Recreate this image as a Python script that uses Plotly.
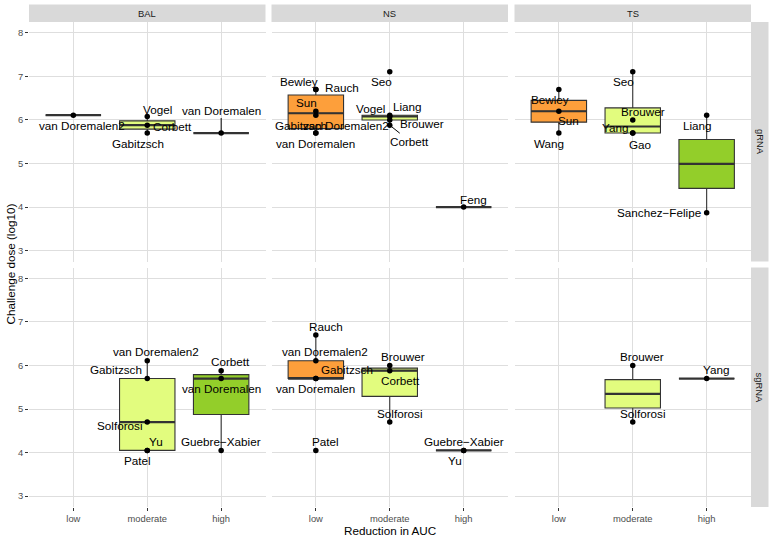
import numpy as np
import plotly.graph_objects as go

# ---------------- data ----------------
studies = ["Bewley", "Brouwer", "Corbett", "Feng", "Gabitzsch", "Gao", "Guebre−Xabier",
           "Liang", "Patel", "Rauch", "Sanchez−Felipe", "Seo", "Solforosi", "Sun",
           "van Doremalen", "van Doremalen2", "Vogel", "Wang", "Yang", "Yu"]
study_dose = [6.70, 6.00, 5.88, 4.00, 5.70, 5.70, 4.05,
              6.11, 4.05, 6.70, 3.87, 7.11, 4.70, 6.20,
              5.70, 6.11, 6.08, 5.70, 5.70, 4.05]

tissues = ["BAL", "NS", "TS"]
measures = ["gRNA", "sgRNA"]
reduction_levels = ["low", "moderate", "high"]
y_ticks = [3, 4, 5, 6, 7, 8]

obs_measure = (["gRNA"] * 26) + (["sgRNA"] * 21)
obs_tissue = (["BAL"] * 5 + ["NS"] * 12 + ["TS"] * 9 +
              ["BAL"] * 8 + ["NS"] * 10 + ["TS"] * 3)
obs_study = [
    # gRNA BAL
    "van Doremalen2", "Vogel", "Corbett", "Gabitzsch", "van Doremalen",
    # gRNA NS
    "Bewley", "Rauch", "Sun", "van Doremalen2", "Gabitzsch", "van Doremalen",
    "Seo", "Vogel", "Liang", "Brouwer", "Corbett", "Feng",
    # gRNA TS
    "Bewley", "Sun", "Wang", "Seo", "Brouwer", "Yang", "Gao", "Liang", "Sanchez−Felipe",
    # sgRNA BAL
    "van Doremalen2", "Gabitzsch", "Solforosi", "Yu", "Patel",
    "Corbett", "van Doremalen", "Guebre−Xabier",
    # sgRNA NS
    "Rauch", "van Doremalen2", "Gabitzsch", "van Doremalen", "Patel",
    "Brouwer", "Corbett", "Solforosi", "Guebre−Xabier", "Yu",
    # sgRNA TS
    "Brouwer", "Solforosi", "Yang",
]
obs_reduction = [
    "low", "moderate", "moderate", "moderate", "high",
    "low", "low", "low", "low", "low", "low",
    "moderate", "moderate", "moderate", "moderate", "moderate", "high",
    "low", "low", "low", "moderate", "moderate", "moderate", "moderate", "high", "high",
    "moderate", "moderate", "moderate", "moderate", "moderate",
    "high", "high", "high",
    "low", "low", "low", "low", "low",
    "moderate", "moderate", "moderate", "high", "high",
    "moderate", "moderate", "high",
]

# ---------------- styling (label offsets in px: right, down) ----------------
label_offsets = [
    (9, 10), (10, -7), (25, 1.5), (-9, 10), (0, -23),
    (-17, -8.5), (26, -2), (-9, -9), (30.6, 10), (-15, -8), (0, 10),
    (-8.5, 9.5), (-19, -8), (18, -8.5), (32, 3.6), (20, 16), (10, -8),
    (-9, 10), (10, 9.7), (-9.4, 10), (-9, 9.5), (10, -8.4), (-17.6, -6), (8, 11), (-9, 10.5), (-47.7, 0),
    (9, -9), (-31, -9), (-27.6, 3), (9, -9), (-9.5, 10),
    (9, -9), (0, 10), (0, -9),
    (10, -8.6), (9, -9), (31, -9), (0, 9.5), (10, -9),
    (13.7, -8.7), (11, 9.7), (9.5, -8.7), (0, -9), (-8.5, 10),
    (9.4, -8.7), (9.4, -8.7), (9.3, -9),
]
segment_labels = {4, 15}

fill_colors = {"low": "#FD9F3B", "moderate": "#E2FC7E", "high": "#93CE2A"}
LINE = "#333333"
GRID = "#DEDEDE"
STRIP = "#D9D9D9"
FONT = "Liberation Sans, Arial, Helvetica, sans-serif"

W, H = 774, 538
col_px = [(29, 265.5), (271.5, 508), (514.5, 751)]
row_px = [(22, 261.5), (267.5, 507)]
BOXW = 0.75

dose_of = dict(zip(studies, study_dose))
obs_dose = [dose_of[s] for s in obs_study]

fig = go.Figure()
layout = dict(
    width=W, height=H, margin=dict(l=0, r=0, t=0, b=0),
    paper_bgcolor="white", plot_bgcolor="white", showlegend=False,
    font=dict(family=FONT, color="#000000"),
)
shapes = []
annotations = []


def sfx_of(r, c):
    i = r * 3 + c + 1
    return "" if i == 1 else str(i)


for r, meas in enumerate(measures):
    for c, tis in enumerate(tissues):
        sfx = sfx_of(r, c)
        x0, x1 = col_px[c]
        y0, y1 = row_px[r]
        layout["xaxis" + sfx] = dict(
            domain=[x0 / W, x1 / W], range=[-0.6, 2.6],
            tickvals=list(range(len(reduction_levels))), ticktext=reduction_levels,
            showticklabels=(r == 1), ticks="outside" if r == 1 else "",
            ticklen=3, tickwidth=1, tickcolor=LINE,
            tickfont=dict(size=9.4, color="#4D4D4D", family=FONT),
            showgrid=True, gridcolor=GRID, gridwidth=1.1,
            zeroline=False, showline=False, anchor="y" + sfx, fixedrange=True,
        )
        layout["yaxis" + sfx] = dict(
            domain=[1 - y1 / H, 1 - y0 / H], range=[2.75, 8.25],
            tickvals=y_ticks, showticklabels=(c == 0),
            ticks="outside" if c == 0 else "", ticklen=3, tickwidth=1, tickcolor=LINE,
            tickfont=dict(size=9.4, color="#4D4D4D", family=FONT),
            showgrid=True, gridcolor=GRID, gridwidth=1.1,
            zeroline=False, showline=False, anchor="x" + sfx, fixedrange=True,
        )
        xa, ya = "x" + sfx, "y" + sfx

        idx = [i for i in range(len(obs_study))
               if obs_measure[i] == meas and obs_tissue[i] == tis]

        # boxplots (stats computed like ggplot2: type-7 quantiles, 1.5 IQR whiskers)
        for k, lvl in enumerate(reduction_levels):
            vals = np.array([obs_dose[i] for i in idx if obs_reduction[i] == lvl])
            if len(vals) == 0:
                continue
            q1, med, q3 = np.percentile(vals, [25, 50, 75])
            iqr = q3 - q1
            lo = vals[vals >= q1 - 1.5 * iqr].min()
            hi = vals[vals <= q3 + 1.5 * iqr].max()
            fig.add_trace(go.Box(
                x=[k], q1=[q1], median=[med], q3=[q3], lowerfence=[lo], upperfence=[hi],
                width=BOXW, fillcolor=fill_colors[lvl], line=dict(color=LINE, width=1.1),
                whiskerwidth=0, boxpoints=False, xaxis=xa, yaxis=ya, hoverinfo="skip",
            ))
            fig.add_trace(go.Scatter(
                x=[k - BOXW / 2, k + BOXW / 2], y=[med, med], mode="lines",
                line=dict(color=LINE, width=2.2), xaxis=xa, yaxis=ya, hoverinfo="skip",
            ))

        # points
        fig.add_trace(go.Scatter(
            x=[reduction_levels.index(obs_reduction[i]) for i in idx],
            y=[obs_dose[i] for i in idx], mode="markers",
            marker=dict(color="black", size=5.5), xaxis=xa, yaxis=ya, hoverinfo="skip",
        ))

        # labels
        for i in idx:
            dx, dy = label_offsets[i]
            kx = reduction_levels.index(obs_reduction[i])
            if i in segment_labels:
                annotations.append(dict(
                    x=kx, y=obs_dose[i], xref=xa, yref=ya, text=obs_study[i],
                    showarrow=True, arrowhead=0, arrowwidth=1, arrowcolor="black",
                    ax=dx, ay=dy, standoff=2,
                    font=dict(size=11.7, color="black", family=FONT),
                ))
            else:
                annotations.append(dict(
                    x=kx, y=obs_dose[i], xref=xa, yref=ya, text=obs_study[i],
                    showarrow=False, xshift=dx, yshift=-dy,
                    xanchor="center", yanchor="middle",
                    font=dict(size=11.7, color="black", family=FONT),
                ))

# strips
for c, tis in enumerate(tissues):
    x0, x1 = col_px[c]
    shapes.append(dict(type="rect", xref="paper", yref="paper",
                       x0=x0 / W, x1=x1 / W, y0=1 - 22 / H, y1=1 - 4.5 / H,
                       fillcolor=STRIP, line=dict(width=0), layer="below"))
    annotations.append(dict(x=(x0 + x1) / 2 / W, y=1 - 13.25 / H, xref="paper", yref="paper",
                            text=tis, showarrow=False, xanchor="center", yanchor="middle",
                            font=dict(size=9.4, color="#1A1A1A", family=FONT)))
for r, meas in enumerate(measures):
    y0, y1 = row_px[r]
    shapes.append(dict(type="rect", xref="paper", yref="paper",
                       x0=751 / W, x1=768.5 / W, y0=1 - y1 / H, y1=1 - y0 / H,
                       fillcolor=STRIP, line=dict(width=0), layer="below"))
    annotations.append(dict(x=759.75 / W, y=1 - (y0 + y1) / 2 / H, xref="paper", yref="paper",
                            text=meas, showarrow=False, textangle=90,
                            xanchor="center", yanchor="middle",
                            font=dict(size=9.4, color="#1A1A1A", family=FONT)))

# axis titles
annotations.append(dict(x=390 / W, y=1 - 530 / H, xref="paper", yref="paper",
                        text="Reduction in AUC", showarrow=False,
                        xanchor="center", yanchor="middle",
                        font=dict(size=11.7, color="black", family=FONT)))
annotations.append(dict(x=10 / W, y=1 - 264.5 / H, xref="paper", yref="paper",
                        text="Challenge dose (log10)", showarrow=False, textangle=-90,
                        xanchor="center", yanchor="middle",
                        font=dict(size=11.7, color="black", family=FONT)))

layout["shapes"] = shapes
layout["annotations"] = annotations
fig.update_layout(**layout)
fig.write_html(
    "out.html",
    config={"displayModeBar": False},
    post_script="document.body.style.margin='0';document.body.style.overflow='hidden';",
)
